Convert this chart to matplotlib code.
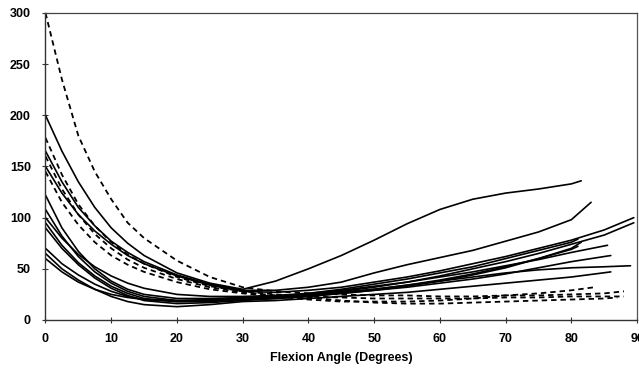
import numpy as np
import matplotlib
matplotlib.use("Agg")
from matplotlib import pyplot as plt

# flexion angle grid shared by every curve (degrees)
angles = [0, 2.5, 5, 7.5, 10, 12.5, 15, 20, 25, 30, 35, 40, 45, 50, 55, 60, 65, 70, 75, 80, 85]

# solid curves: values on the grid, then the last measured point
solid_a = [200, 165, 135, 110, 90, 75, 63, 46, 36, 30, 38, 50, 63, 78, 94, 108, 118, 124, 128, 133]
solid_a_end = (81.5, 136)
solid_b = [165, 135, 110, 92, 77, 66, 57, 44, 35, 29, 29, 32, 37, 46, 54, 61, 68, 77, 86, 98]
solid_b_end = (83, 115)
solid_c = [150, 124, 103, 87, 74, 63, 55, 43, 34, 28, 27, 29, 32, 37, 42, 48, 55, 62, 70, 78, 88]
solid_c_end = (89.5, 100)
solid_d = [122, 90, 67, 50, 38, 30, 25, 21, 21, 22, 23, 25, 28, 32, 37, 43, 50, 57, 65, 74, 83]
solid_d_end = (89.5, 95)
solid_e = [108, 82, 62, 47, 36, 28, 23, 19, 19, 21, 23, 26, 30, 35, 40, 46, 52, 60, 68, 76]
solid_e_end = (81, 79)
solid_f = [100, 80, 64, 52, 43, 36, 31, 25, 23, 23, 24, 26, 29, 33, 37, 42, 47, 53, 59, 66]
solid_f_end = (85.5, 73)
solid_g = [95, 73, 56, 43, 33, 26, 21, 18, 18, 20, 21, 23, 26, 29, 33, 38, 44, 51, 60, 70]
solid_g_end = (81.5, 76)
solid_h = [90, 70, 54, 41, 31, 24, 19, 16, 17, 19, 21, 23, 26, 29, 32, 36, 40, 45, 51, 57]
solid_h_end = (86, 63)
solid_i = [70, 55, 44, 35, 28, 23, 20, 18, 19, 21, 22, 24, 27, 30, 34, 38, 42, 46, 49, 51, 52]
solid_i_end = (89, 53)
solid_j = [65, 50, 39, 30, 23, 18, 15, 13, 15, 18, 19, 21, 23, 25, 27, 30, 33, 36, 39, 42]
solid_j_end = (86, 47)
solid_k = [60, 47, 37, 30, 25, 22, 20, 19, 20, 21, 22, 24, 27, 30, 34, 39, 45, 52, 60, 69]
solid_k_end = (81, 72)

# dashed curves
dashed_a = [300, 235, 180, 145, 118, 95, 80, 58, 42, 32, 28, 26, 25, 24, 24, 23, 23, 24, 24, 25, 26]
dashed_a_end = (88, 28)
dashed_b = [178, 142, 113, 92, 76, 64, 55, 42, 33, 28, 25, 23, 22, 21, 21, 21, 21, 22, 22, 23, 23]
dashed_b_end = (88, 23)
dashed_c = [160, 128, 103, 84, 70, 59, 51, 40, 32, 27, 24, 22, 19, 17, 16, 16, 17, 18, 19, 20, 21]
dashed_c_end = (87, 22)
dashed_d = [145, 115, 93, 76, 63, 54, 47, 37, 30, 26, 23, 20, 18, 18, 18, 19, 21, 24, 26, 29]
dashed_d_end = (83.5, 32)

solid = [(solid_a, solid_a_end), (solid_b, solid_b_end), (solid_c, solid_c_end),
         (solid_d, solid_d_end), (solid_e, solid_e_end), (solid_f, solid_f_end),
         (solid_g, solid_g_end), (solid_h, solid_h_end), (solid_i, solid_i_end),
         (solid_j, solid_j_end), (solid_k, solid_k_end)]
dashed = [(dashed_a, dashed_a_end), (dashed_b, dashed_b_end),
          (dashed_c, dashed_c_end), (dashed_d, dashed_d_end)]

x_ticks = [0, 10, 20, 30, 40, 50, 60, 70, 80, 90]
y_ticks = [0, 50, 100, 150, 200, 250, 300]

plt.rcParams['font.family'] = ['Liberation Sans', 'DejaVu Sans']

fig = plt.figure(figsize=(6.39, 3.71), dpi=100)
ax = fig.add_axes([0.0712, 0.1375, 0.9258, 0.8275])


def curve(vals, end):
    xs = angles[:len(vals)] + [end[0]]
    ys = list(vals) + [end[1]]
    return xs, ys


for vals, end in solid:
    xs, ys = curve(vals, end)
    ax.plot(xs, ys, color='black', lw=1.2, solid_joinstyle='round', solid_capstyle='round')

for vals, end in dashed:
    xs, ys = curve(vals, end)
    ax.plot(xs, ys, color='black', lw=1.3, dashes=(3, 2.2))

ax.set_xlim(0, 90)
ax.set_ylim(0, 300)
ax.set_xticks(x_ticks)
ax.set_yticks(y_ticks)
ax.tick_params(axis='both', direction='inout', length=5, width=0.8, colors='#333333',
               labelcolor='black', labelsize=9)
ax.tick_params(axis='y', pad=8)
ax.tick_params(axis='x', pad=7)
for lab in ax.get_xticklabels() + ax.get_yticklabels():
    lab.set_fontweight('bold')

for side in ['left', 'bottom']:
    ax.spines[side].set_color('#333333')
    ax.spines[side].set_linewidth(1.0)
ax.spines['top'].set_color('#444444')
ax.spines['right'].set_color('#555555')
ax.spines['top'].set_linewidth(0.9)
ax.spines['right'].set_linewidth(0.9)

ax.set_xlabel('Flexion Angle (Degrees)', fontsize=9, fontweight='bold', labelpad=5)

fig.savefig('out.png', dpi=100)
